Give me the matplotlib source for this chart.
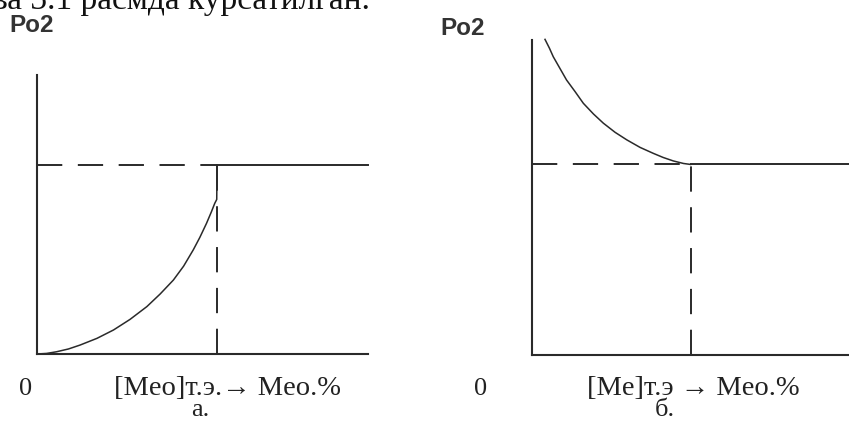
import numpy as np
import matplotlib.pyplot as plt

# данные: кривая а (рост Po2 до точки эквивалентности)
a_x = [0, 0.29, 0.59, 0.95, 1.30, 1.81, 2.31, 2.81, 3.32, 3.72, 4.12, 4.43,
       4.72, 4.92, 5.12, 5.27, 5.37, 5.43, 5.44]
a_y = [0, 0.02, 0.08, 0.18, 0.32, 0.56, 0.86, 1.24, 1.70, 2.15, 2.65, 3.15,
       3.73, 4.18, 4.68, 5.10, 5.40, 5.54, 6.77]
a_eq, a_lvl = 5.44, 6.77

# кривая б (спад Po2)
b_x = [0.41, 0.55, 0.67, 0.88, 1.09, 1.36, 1.62, 1.94, 2.25, 2.62, 2.99,
       3.41, 3.83, 4.14, 4.46, 4.78, 5.00]
b_y = [10.02, 9.74, 9.47, 9.10, 8.73, 8.36, 7.99, 7.65, 7.36, 7.07, 6.83,
       6.59, 6.40, 6.27, 6.16, 6.08, 6.05]
b_eq, b_lvl = 5.00, 6.05

xmax, ymax = 10, 10
clr = '#2a2a2a'
serif = ['Liberation Serif', 'DejaVu Serif']
sans = ['Liberation Sans', 'DejaVu Sans']

fig = plt.figure(figsize=(8.49, 4.24), dpi=100)
fig.patch.set_facecolor('white')

ax1 = fig.add_axes([37/849, 70/424, 331/849, 279/424])
ax2 = fig.add_axes([532/849, 69/424, 317/849, 315/424])


def panel(ax, x, y, eq, lvl):
    ax.set_xlim(0, xmax); ax.set_ylim(0, ymax)
    ax.set_xticks([]); ax.set_yticks([])
    for s in ['top', 'right']:
        ax.spines[s].set_visible(False)
    for s in ['left', 'bottom']:
        ax.spines[s].set_linewidth(1.5)
        ax.spines[s].set_color(clr)
    ax.set_facecolor('none')
    ax.plot(x, y, '-', color=clr, linewidth=1.1, clip_on=False)
    ax.plot([0, eq], [lvl, lvl], color=clr, linewidth=1.4,
            linestyle=(0, (13, 8)))
    ax.plot([eq, eq], [0, lvl], color=clr, linewidth=1.4,
            linestyle=(0, (13, 8)))
    ax.plot([eq, xmax], [lvl, lvl], '-', color=clr, linewidth=1.4,
            clip_on=False)


panel(ax1, a_x, a_y, a_eq, a_lvl)
panel(ax2, b_x, b_y, b_eq, b_lvl)

# подписи (верхняя строка обрезана краем скана, как в оригинале)
fig.text(-8/849, 1 - 9/424, 'ва 3.1 расмда курсатилган.', family=serif,
         fontsize=24, color='#111', va='baseline')
fig.text(9/849, 1 - 32/424, 'Po2', family=sans,
         fontweight='bold', fontsize=17.5, color='#333', va='baseline')
fig.text(440/849, 1 - 35/424, 'Po2', family=sans,
         fontweight='bold', fontsize=17.5, color='#333', va='baseline')

fig.text(26/849, 1 - 395/424, '0', family=serif, fontsize=19, color='#222',
         ha='center', va='baseline')
fig.text(227/849, 1 - 395/424, '[Meo]т.э.→ Meo.%', family=serif, fontsize=20.5,
         color='#222', ha='center', va='baseline')
fig.text(200/849, 1 - 416/424, 'a.', family=serif, fontsize=19, color='#222',
         ha='center', va='baseline')

fig.text(481/849, 1 - 395/424, '0', family=serif, fontsize=19, color='#222',
         ha='center', va='baseline')
fig.text(693/849, 1 - 395/424, '[Me]т.э → Meo.%', family=serif, fontsize=20.5,
         color='#222', ha='center', va='baseline')
fig.text(665/849, 1 - 416/424, 'б.', family=serif, fontsize=19, color='#222',
         ha='center', va='baseline')

plt.savefig('out.png', dpi=100)
